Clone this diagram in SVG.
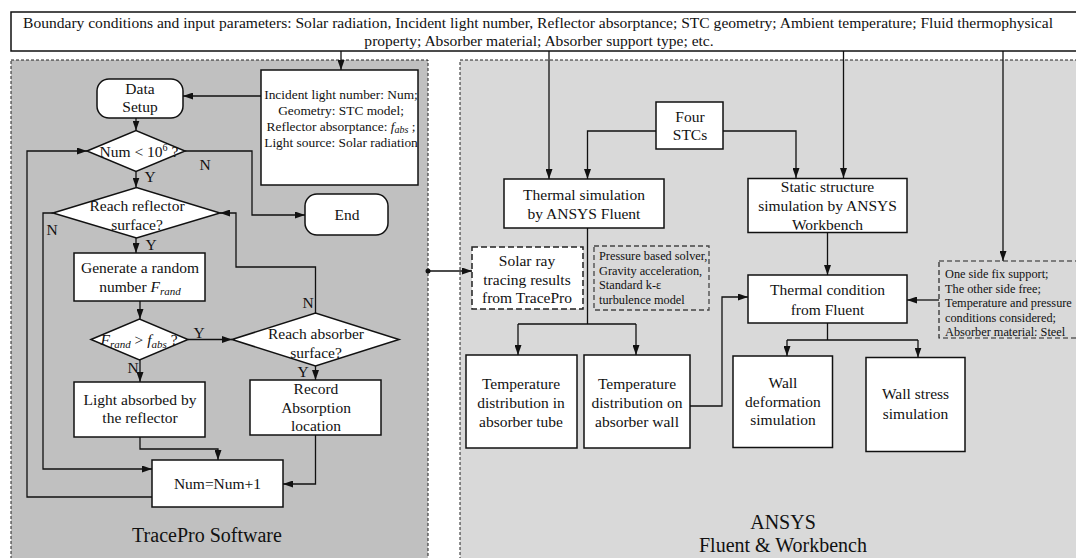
<svg xmlns="http://www.w3.org/2000/svg" width="1076" height="558" viewBox="0 0 1076 558">
<defs>
<marker id="ah" markerWidth="10" markerHeight="7" refX="10" refY="3.5" orient="auto" markerUnits="userSpaceOnUse"><path d="M0,0 L10,3.5 L0,7 z" fill="#111"/></marker>
<style>
text{font-family:"Liberation Serif","Times New Roman",serif;fill:#111;}
.t{font-size:15.5px;text-anchor:middle;}
.s{font-size:12.3px;}
.m{font-size:13.4px;text-anchor:middle;}
.big{font-size:20px;text-anchor:middle;}
.box{fill:#fff;stroke:#111;stroke-width:1.5;}
.panel{stroke:#222;stroke-width:1;stroke-dasharray:3,2;}
.c{fill:none;stroke:#111;stroke-width:1.3;}
.a{marker-end:url(#ah);}
.i{font-style:italic;}
</style>
</defs>
<rect width="1076" height="558" fill="#fff"/>
<g id="panel-tracepro">
<rect class="panel" x="11" y="60" width="417" height="510" fill="#c0c0c0"/>
<text class="big" x="207" y="542">TracePro Software</text>
</g>
<g id="panel-ansys">
<rect class="panel" x="460" y="60" width="630" height="510" fill="#d9d9d9"/>
<text class="big" x="783" y="529">ANSYS</text>
<text class="big" x="783" y="552">Fluent &amp; Workbench</text>
</g>
<g id="banner">
<rect x="11" y="12" width="1080" height="39" fill="#fff" stroke="#111" stroke-width="1.5"/>
<text x="538" y="28" font-size="15.55" text-anchor="middle">Boundary conditions and input parameters: Solar radiation, Incident light number, Reflector absorptance; STC geometry; Ambient temperature; Fluid thermophysical</text>
<text x="539" y="46" font-size="15.55" text-anchor="middle">property; Absorber material; Absorber support type; etc.</text>
</g>
<g id="connectors">
<path class="c a" d="M341,51 V70"/>
<path class="c a" d="M261,96 H183"/>
<path class="c a" d="M136,118 V130.5"/>
<path class="c a" d="M185,151 H252 V215 H305"/>
<path class="c a" d="M136,171.5 V187.5"/>
<path class="c a" d="M53,213 H43 V469 H152"/>
<path class="c a" d="M136,238 V253"/>
<path class="c a" d="M140,301 V319"/>
<path class="c a" d="M188,339.5 H232"/>
<path class="c a" d="M140,360 V382"/>
<path class="c a" d="M315.5,366 V380"/>
<path class="c a" d="M315.5,313 V267 H236 V213 H220"/>
<path class="c a" d="M140,437 V449 H218 V460"/>
<path class="c a" d="M315.5,435 V484 H283"/>
<path class="c a" d="M152,497 H27 V151 H87"/>
<circle cx="428" cy="271" r="2.5" fill="#111"/>
<path class="c a" d="M428,271 H472"/>
<path class="c a" d="M549,51 V179"/>
<path class="c a" d="M656,131 H587.5 V179"/>
<path class="c a" d="M723,131 H796 V178"/>
<path class="c a" d="M843.5,51 V178"/>
<path class="c a" d="M1003,51 V261"/>
<path class="c" d="M587.5,228 V324 M518,324 H636"/>
<path class="c a" d="M518,324 V355"/>
<path class="c a" d="M636,324 V355"/>
<path class="c a" d="M690,406 H722 V297 H748"/>
<path class="c a" d="M827.5,233 V275"/>
<path class="c a" d="M939,300 H907"/>
<path class="c" d="M827.5,323 V340 M787,340 H918"/>
<path class="c a" d="M787,340 V356"/>
<path class="c a" d="M918,340 V357.5"/>
</g>
<g id="incident">
<rect class="box" x="261" y="70" width="157" height="115"/>
<text class="m" x="341" y="99">Incident light number: Num;</text>
<text class="m" x="341" y="115">Geometry: STC model;</text>
<text class="m" x="341" y="131">Reflector absorptance: <tspan class="i">f</tspan><tspan class="i" font-size="10" dy="2">abs</tspan><tspan dy="-2"> ;</tspan></text>
<text class="m" x="341" y="147">Light source: Solar radiation</text>
</g>
<g id="data-setup">
<rect class="box" x="97" y="79" width="86" height="39" rx="12"/>
<text class="t" x="140" y="94">Data</text>
<text class="t" x="140" y="112">Setup</text>
</g>
<g id="d-num">
<polygon class="box" points="87,151 136,130.5 185,151 136,171.5"/>
<text class="t" x="139" y="157">Num &lt; 10<tspan font-size="10" dy="-6">6</tspan><tspan dy="6"> ?</tspan></text>
<text class="t" x="205" y="170">N</text>
<text class="t" x="150" y="182">Y</text>
</g>
<g id="end">
<rect class="box" x="305" y="194" width="83" height="41" rx="12"/>
<text class="t" x="347" y="220">End</text>
</g>
<g id="d-reflector">
<polygon class="box" points="53,213 136.5,187.5 220,213 136.5,238"/>
<text class="t" x="137" y="211">Reach reflector</text>
<text class="t" x="137" y="230">surface?</text>
<text class="t" x="52" y="235">N</text>
<text class="t" x="151" y="250">Y</text>
</g>
<g id="generate">
<rect class="box" x="74" y="253" width="131" height="48"/>
<text class="t" x="140" y="273">Generate a random</text>
<text class="t" x="140" y="292">number <tspan class="i">F</tspan><tspan class="i" font-size="11" dy="3">rand</tspan></text>
</g>
<g id="d-frand">
<polygon class="box" points="91,339.5 139.5,319 188,339.5 139.5,360"/>
<text class="t" x="139" y="345"><tspan class="i">F</tspan><tspan class="i" font-size="11" dy="3">rand</tspan><tspan dy="-3"> &gt; </tspan><tspan class="i">f</tspan><tspan class="i" font-size="11" dy="3">abs</tspan><tspan dy="-3"> ?</tspan></text>
<text class="t" x="199" y="338">Y</text>
<text class="t" x="133" y="373">N</text>
</g>
<g id="d-absorber">
<polygon class="box" points="232,339.5 315.5,313 399,339.5 315.5,366"/>
<text class="t" x="316" y="339">Reach absorber</text>
<text class="t" x="316" y="358">surface?</text>
<text class="t" x="308" y="308">N</text>
<text class="t" x="303" y="377">Y</text>
</g>
<g id="light">
<rect class="box" x="74" y="382" width="131" height="55"/>
<text class="t" x="140" y="405">Light absorbed by</text>
<text class="t" x="140" y="423">the reflector</text>
</g>
<g id="record">
<rect class="box" x="250" y="380" width="131" height="55"/>
<text class="t" x="316" y="394">Record</text>
<text class="t" x="316" y="413">Absorption</text>
<text class="t" x="316" y="431">location</text>
</g>
<g id="num-inc">
<rect class="box" x="152" y="460" width="131" height="47"/>
<text class="t" x="217.5" y="489">Num=Num+1</text>
</g>
<g id="four-stcs">
<rect class="box" x="656" y="102" width="67" height="47"/>
<text class="t" x="690" y="122">Four</text>
<text class="t" x="690" y="140">STCs</text>
</g>
<g id="thermal-sim">
<rect class="box" x="504" y="179" width="160" height="49"/>
<text class="t" x="584" y="200">Thermal simulation</text>
<text class="t" x="584" y="219">by ANSYS Fluent</text>
</g>
<g id="static">
<rect class="box" x="748" y="178.5" width="159" height="54"/>
<text class="t" x="827.5" y="192">Static structure</text>
<text class="t" x="827.5" y="211">simulation by ANSYS</text>
<text class="t" x="827.5" y="229.5">Workbench</text>
</g>
<g id="solar">
<rect x="472" y="247" width="111" height="62" fill="#fff" stroke="#222" stroke-width="1.5" stroke-dasharray="6,3"/>
<text class="t" x="527" y="266">Solar ray</text>
<text class="t" x="527" y="284.5">tracing results</text>
<text class="t" x="527" y="303">from TracePro</text>
</g>
<g id="pressure">
<rect x="594" y="246" width="115" height="64" fill="#d9d9d9" stroke="#444" stroke-width="1.3" stroke-dasharray="5,3"/>
<text class="s" x="599" y="259.5">Pressure based solver,</text>
<text class="s" x="599" y="274.5">Gravity acceleration,</text>
<text class="s" x="599" y="288.5">Standard k-ε</text>
<text class="s" x="599" y="303.5">turbulence model</text>
</g>
<g id="thermal-cond">
<rect class="box" x="748" y="275" width="159" height="48"/>
<text class="t" x="827.5" y="295">Thermal condition</text>
<text class="t" x="827.5" y="314.5">from Fluent</text>
</g>
<g id="support">
<rect x="939" y="261" width="150" height="77" fill="#d9d9d9" stroke="#222" stroke-width="1.2" stroke-dasharray="5,3"/>
<text class="s" x="945" y="277.5">One side fix support;</text>
<text class="s" x="945" y="292.5">The other side free;</text>
<text class="s" x="945" y="307">Temperature and pressure</text>
<text class="s" x="945" y="321.5">conditions considered;</text>
<text class="s" x="945" y="336">Absorber material: Steel</text>
</g>
<g id="temp-tube">
<rect class="box" x="466" y="355" width="111" height="93"/>
<text class="t" x="521" y="389">Temperature</text>
<text class="t" x="521" y="407.5">distribution in</text>
<text class="t" x="521" y="427">absorber tube</text>
</g>
<g id="temp-wall">
<rect class="box" x="584" y="355" width="106" height="93"/>
<text class="t" x="637" y="389">Temperature</text>
<text class="t" x="637" y="407.5">distribution on</text>
<text class="t" x="637" y="427">absorber wall</text>
</g>
<g id="wall-def">
<rect class="box" x="733" y="356" width="99.5" height="91.5"/>
<text class="t" x="783" y="387.5">Wall</text>
<text class="t" x="783" y="406.5">deformation</text>
<text class="t" x="783" y="425">simulation</text>
</g>
<g id="wall-stress">
<rect class="box" x="866" y="357.5" width="99" height="94"/>
<text class="t" x="915.5" y="399">Wall stress</text>
<text class="t" x="915.5" y="418.5">simulation</text>
</g>
</svg>
